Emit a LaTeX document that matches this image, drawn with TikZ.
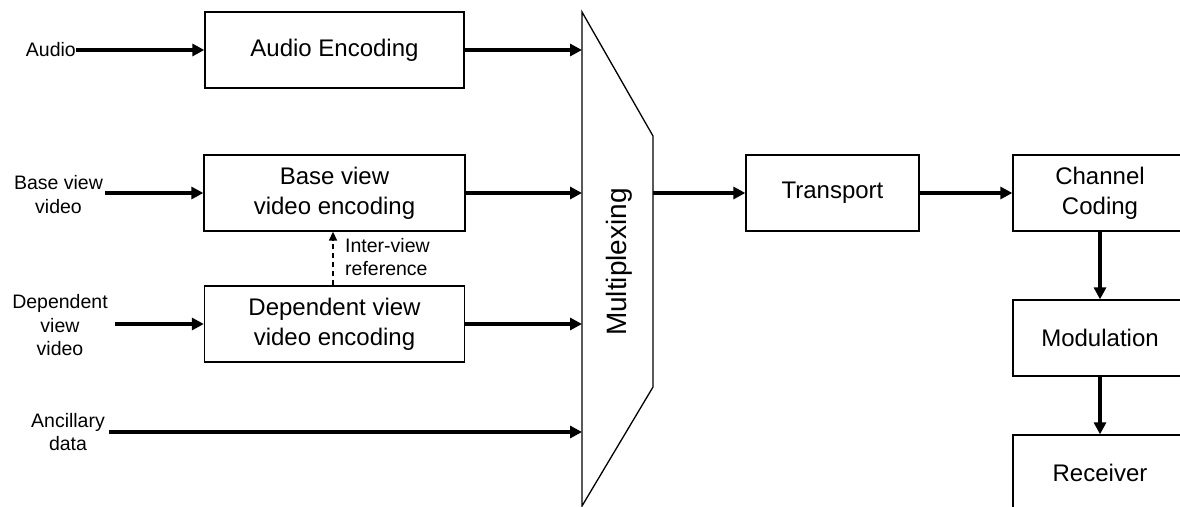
\documentclass[tikz,border=0pt]{standalone}
\usepackage{fontspec}
\setmainfont{Liberation Sans}
\usetikzlibrary{arrows.meta}
\begin{document}
\begin{tikzpicture}[x=1pt,y=-1pt,
  blk/.style={draw=black, line width=1.3pt, minimum height=76pt, inner sep=0pt, align=center, font=\fontsize{24}{30}\selectfont},
  lbl/.style={inner sep=0pt, align=center, font=\fontsize{19.5}{23.5}\selectfont},
  flow/.style={line width=4pt, -{Triangle[length=12pt,width=12pt]}},
  refarrow/.style={line width=1.5pt, dash pattern=on 5pt off 4pt, -{Triangle[length=9pt,width=8pt]}}]
\useasboundingbox (0,0) rectangle (1180,506);
\clip (0,0) rectangle (1180,506);

% encoder boxes
\node[blk, minimum width=259pt] (audioenc) at (334.5,50) {Audio Encoding};
\node[blk, minimum width=261pt] (baseenc) at (334.5,193) {Base view\\video encoding};
\node[blk, minimum width=260pt] (depenc) at (334.5,324) {Dependent view\\video encoding};

% multiplexer
\draw[line width=1.3pt] (582,12) -- (653,136) -- (653,387) -- (582,506) -- cycle;
\node[rotate=90, inner sep=0pt, font=\fontsize{28}{30}\selectfont] (muxlbl) at (619,262) {Multiplexing};
\coordinate (muxA) at (582,50);
\coordinate (muxB) at (582,193);
\coordinate (muxD) at (582,324);
\coordinate (muxC) at (582,432);
\coordinate (muxO) at (653,193);

% right chain
\node[blk, minimum width=173pt] (transport) at (832.5,193) {Transport};
\node[blk, minimum width=174pt] (channel) at (1100,193) {Channel\\Coding};
\node[blk, minimum width=174pt] (modulation) at (1100,338) {Modulation};
\node[blk, minimum width=174pt] (receiver) at (1100,473) {Receiver};

% input labels
\node[lbl, anchor=east] (audiolbl) at (76,50) {Audio};
\node[lbl] (baselbl) at (58.5,194.5) {Base view\\video};
\node[lbl] (deplbl) at (60,325.5) {Dependent\\view\\video};
\node[lbl] (anclbl) at (68,432) {Ancillary\\data};
\coordinate (baseIn) at (105,193);
\coordinate (depIn) at (115,324);
\coordinate (ancIn) at (109,432);

% connectors
\draw[flow] (audiolbl.east) -- (audioenc.west);
\draw[flow] (baseIn) -- (baseenc.west);
\draw[flow] (depIn) -- (depenc.west);
\draw[flow] (ancIn) -- (muxC);
\draw[flow] (audioenc.east) -- (muxA);
\draw[flow] (baseenc.east) -- (muxB);
\draw[flow] (depenc.east) -- (muxD);
\draw[flow] (muxO) -- (transport.west);
\draw[flow] (transport.east) -- (channel.west);
\draw[flow] (channel.south) -- (modulation.north);
\draw[flow] (modulation.south) -- (receiver.north);

% inter-view reference
\draw[refarrow] (depenc.north -| 333,0) -- (baseenc.south -| 333,0);
\node[lbl, anchor=west, align=left] (interlbl) at (345,257) {Inter-view\\reference};
\end{tikzpicture}
\end{document}
